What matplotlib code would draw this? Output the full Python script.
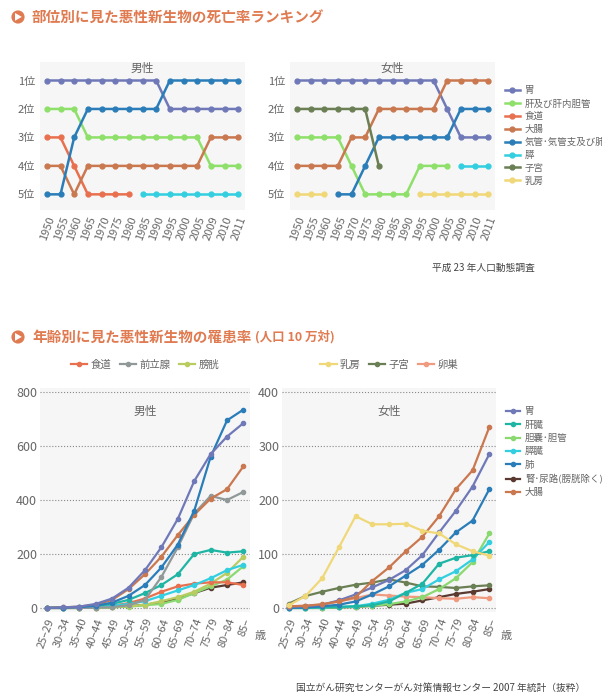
import matplotlib.pyplot as plt
import numpy as np

plt.rcParams['font.family'] = ['Noto Sans CJK JP', 'DejaVu Sans']
nan = np.nan

years = ["1950", "1955", "1960", "1965", "1970", "1975", "1980", "1985",
         "1990", "1995", "2000", "2005", "2009", "2010", "2011"]
rank_labels = ["1位", "2位", "3位", "4位", "5位"]

# 死亡率ランキング (男性)
m_stomach = [1, 1, 1, 1, 1, 1, 1, 1, 1, 2, 2, 2, 2, 2, 2]
m_liver = [2, 2, 2, 3, 3, 3, 3, 3, 3, 3, 3, 3, 4, 4, 4]
m_esoph = [3, 3, 4, 5, 5, 5, 5, nan, nan, nan, nan, nan, nan, nan, nan]
m_colon = [4, 4, 5, 4, 4, 4, 4, 4, 4, 4, 4, 4, 3, 3, 3]
m_lung = [5, 5, 3, 2, 2, 2, 2, 2, 2, 1, 1, 1, 1, 1, 1]
m_panc = [nan] * 7 + [5] * 8

# 死亡率ランキング (女性)
f_stomach = [1, 1, 1, 1, 1, 1, 1, 1, 1, 1, 1, 2, 3, 3, 3]
f_liver = [3, 3, 3, 3, 4, 5, 5, 5, 5, 4, 4, 4, nan, nan, nan]
f_colon = [4, 4, 4, 4, 3, 3, 2, 2, 2, 2, 2, 1, 1, 1, 1]
f_lung = [nan, nan, nan, 5, 5, 4, 3, 3, 3, 3, 3, 3, 2, 2, 2]
f_panc = [nan] * 12 + [4, 4, 4]
f_uterus = [2, 2, 2, 2, 2, 2, 4] + [nan] * 8
f_breast = [5, 5, 5] + [nan] * 6 + [5] * 6

ages = ["25–29", "30–34", "35–40", "40–44", "45–49", "50–54", "55–59",
        "60–64", "65–69", "70–74", "75–79", "80–84", "85–"]

# 罹患率 男性
im_stomach = [0, 2, 5, 15, 35, 75, 140, 225, 330, 470, 570, 635, 685]
im_lung = [0, 1, 3, 8, 20, 45, 85, 150, 235, 360, 560, 695, 735]
im_colon = [0, 2, 5, 12, 30, 70, 125, 190, 270, 345, 405, 440, 525]
im_prostate = [0, 0, 0, 1, 3, 10, 30, 115, 225, 350, 415, 400, 430]
im_liver = [0, 1, 3, 8, 15, 30, 55, 85, 125, 200, 215, 205, 210]
im_panc = [0, 0, 1, 3, 8, 15, 25, 45, 65, 85, 110, 140, 160]
im_esoph = [0, 0, 1, 3, 8, 18, 35, 60, 80, 90, 95, 95, 85]
im_bladder = [0, 0, 0, 1, 3, 6, 12, 25, 40, 60, 90, 130, 190]
im_gall = [0, 0, 0, 1, 2, 5, 10, 15, 30, 55, 80, 105, 155]
im_kidney = [0, 0, 0, 1, 3, 6, 12, 20, 35, 55, 75, 85, 95]

# 罹患率 女性
if_breast = [5, 22, 55, 112, 170, 155, 155, 156, 143, 138, 118, 105, 97]
if_uterus = [8, 22, 30, 37, 43, 47, 53, 47, 40, 39, 37, 40, 42]
if_ovary = [3, 4, 6, 12, 18, 25, 23, 21, 20, 18, 17, 20, 18]
if_stomach = [2, 3, 6, 14, 25, 38, 52, 70, 98, 140, 180, 225, 285]
if_liver = [0, 0, 1, 2, 3, 5, 12, 28, 45, 82, 93, 98, 105]
if_gall = [0, 0, 0, 1, 2, 4, 7, 12, 20, 35, 55, 85, 138]
if_panc = [0, 0, 1, 2, 3, 8, 15, 28, 35, 53, 68, 90, 122]
if_lung = [0, 1, 3, 6, 12, 25, 40, 60, 80, 108, 140, 162, 220]
if_kidney = [0, 0, 0, 1, 2, 4, 6, 8, 14, 20, 26, 30, 35]
if_colon = [3, 4, 7, 12, 20, 50, 75, 105, 132, 170, 220, 255, 335]

C = dict(stomach="#7079b8", liver_r="#8ee06a", esoph="#e8704f", colon="#c9784f",
         lung="#2a7db8", panc="#33cfe0", uterus="#6b7f55", breast="#f0d878",
         liver="#1fb5a5", gall="#8ad870", kidney="#5a3a30", prostate="#909898",
         bladder="#b8cc60", ovary="#f09a80")
grey = "#666666"
orange = "#e07a50"

fig = plt.figure(figsize=(6.02, 6.98), dpi=100)
W, H = 602, 698


def add_ax(x0, y0, x1, y1):
    return fig.add_axes([x0 / W, 1 - y1 / H, (x1 - x0) / W, (y1 - y0) / H])


def header(y, text, sub=""):
    fig.text(18 / W, 1 - y / H, "▶", color="white", fontsize=6, ha="center", va="center",
             bbox=dict(boxstyle="circle,pad=0.25", fc=orange, ec="none"))
    fig.text(32 / W, 1 - y / H, text, color=orange, fontsize=10.5, fontweight="bold", va="center")
    if sub:
        fig.text(255 / W, 1 - y / H, sub, color=orange, fontsize=9, fontweight="bold", va="center")


def style(ax):
    ax.set_facecolor("#f6f6f6")
    for s in ax.spines.values():
        s.set_visible(False)
    ax.tick_params(length=0, colors=grey, labelsize=8)


header(17, "部位別に見た悪性新生物の死亡率ランキング")
header(337, "年齢別に見た悪性新生物の罹患率", "(人口 10 万対)")

x = np.arange(len(years))
kw = dict(marker="o", markersize=3.5, linewidth=1.8)

ax1 = add_ax(40, 62, 245, 210)
ax1.plot(x, m_stomach, color=C["stomach"], **kw)
ax1.plot(x, m_liver, color=C["liver_r"], **kw)
ax1.plot(x, m_esoph, color=C["esoph"], **kw)
ax1.plot(x, m_colon, color=C["colon"], **kw)
ax1.plot(x, m_lung, color=C["lung"], **kw)
ax1.plot(x, m_panc, color=C["panc"], **kw)

ax2 = add_ax(290, 62, 495, 210)
ax2.plot(x, f_stomach, color=C["stomach"], label="胃", **kw)
ax2.plot(x, f_liver, color=C["liver_r"], label="肝及び肝内胆管", **kw)
ax2.plot([], [], color=C["esoph"], label="食道", **kw)
ax2.plot(x, f_colon, color=C["colon"], label="大腸", **kw)
ax2.plot(x, f_lung, color=C["lung"], label="気管･気管支及び肺", **kw)
ax2.plot(x, f_panc, color=C["panc"], label="膵", **kw)
ax2.plot(x, f_uterus, color=C["uterus"], label="子宮", **kw)
ax2.plot(x, f_breast, color=C["breast"], label="乳房", **kw)
ax2.legend(loc="upper left", bbox_to_anchor=(1.03, 0.86), frameon=False, fontsize=6.8,
           labelcolor=grey, handlelength=1.6, handletextpad=0.5, labelspacing=0.4,
           borderaxespad=0)

for ax, t in ((ax1, "男性"), (ax2, "女性")):
    style(ax)
    ax.set_ylim(5.55, 0.35)
    ax.set_xlim(-0.5, 14.5)
    ax.set_yticks(range(1, 6), rank_labels)
    ax.set_xticks(x, years, rotation=70, ha="right", rotation_mode="anchor")
    ax.tick_params(axis="x", labelsize=8)
    ax.text(0.5, 0.93, t, transform=ax.transAxes, ha="center", color=grey, fontsize=8.5)

fig.text(535 / W, 1 - 268 / H, "平成 23 年人口動態調査", ha="right", va="center", fontsize=7, color="#444444")

xa = np.arange(len(ages))
kw2 = dict(marker="o", markersize=3, linewidth=1.6)

ax3 = add_ax(40, 388, 250, 612)
ax3.plot(xa, im_kidney, color=C["kidney"], **kw2)
ax3.plot(xa, im_gall, color=C["gall"], **kw2)
ax3.plot(xa, im_bladder, color=C["bladder"], label="膀胱", **kw2)
ax3.plot(xa, im_esoph, color=C["esoph"], label="食道", **kw2)
ax3.plot(xa, im_panc, color=C["panc"], **kw2)
ax3.plot(xa, im_liver, color=C["liver"], **kw2)
ax3.plot(xa, im_prostate, color=C["prostate"], label="前立腺", **kw2)
ax3.plot(xa, im_colon, color=C["colon"], **kw2)
ax3.plot(xa, im_lung, color=C["lung"], **kw2)
ax3.plot(xa, im_stomach, color=C["stomach"], **kw2)
ax3.set_ylim(-15, 815)
ax3.set_yticks([0, 200, 400, 600, 800])
h, l = ax3.get_legend_handles_labels()
order = [1, 2, 0]
ax3.legend([h[i] for i in order], [l[i] for i in order], loc="lower center",
           bbox_to_anchor=(0.5, 1.04), ncol=3, frameon=False, fontsize=7.5, labelcolor=grey,
           handlelength=1.6, columnspacing=0.8, handletextpad=0.3)

ax4 = add_ax(282, 388, 496, 612)
ax4.plot(xa, if_kidney, color=C["kidney"], **kw2)
ax4.plot(xa, if_ovary, color=C["ovary"], **kw2)
ax4.plot(xa, if_uterus, color=C["uterus"], **kw2)
ax4.plot(xa, if_gall, color=C["gall"], **kw2)
ax4.plot(xa, if_panc, color=C["panc"], **kw2)
ax4.plot(xa, if_liver, color=C["liver"], **kw2)
ax4.plot(xa, if_lung, color=C["lung"], **kw2)
ax4.plot(xa, if_stomach, color=C["stomach"], **kw2)
ax4.plot(xa, if_colon, color=C["colon"], **kw2)
ax4.plot(xa, if_breast, color=C["breast"], **kw2)
ax4.set_ylim(-7.5, 407.5)
ax4.set_yticks([0, 100, 200, 300, 400])

mk = lambda c: plt.Line2D([], [], color=c, **kw2)
top_f = ax4.legend([mk(C["breast"]), mk(C["uterus"]), mk(C["ovary"])], ["乳房", "子宮", "卵巣"],
                   loc="lower center", bbox_to_anchor=(0.5, 1.04), ncol=3, frameon=False,
                   fontsize=7.5, labelcolor=grey, handlelength=1.6, columnspacing=0.8,
                   handletextpad=0.3)
ax4.add_artist(top_f)
ax4.legend([mk(C["stomach"]), mk(C["liver"]), mk(C["gall"]), mk(C["panc"]), mk(C["lung"]),
            mk(C["kidney"]), mk(C["colon"])],
           ["胃", "肝臓", "胆嚢･胆管", "膵臓", "肺", "腎･尿路(膀胱除く)", "大腸"],
           loc="upper left", bbox_to_anchor=(1.03, 0.93), frameon=False, fontsize=6.8,
           labelcolor=grey, handlelength=1.5, handletextpad=0.5, labelspacing=0.45,
           borderaxespad=0)

for ax, t in ((ax3, "男性"), (ax4, "女性")):
    style(ax)
    ax.set_xlim(-0.4, 12.4)
    ax.set_xticks(xa, ages, rotation=70, ha="right", rotation_mode="anchor")
    ax.tick_params(axis="y", labelsize=9, pad=2)
    ax.yaxis.grid(True, linestyle=":", color="#888888", linewidth=0.8)
    ax.set_axisbelow(True)
    ax.text(0.5, 0.88, t, transform=ax.transAxes, ha="center", color=grey, fontsize=8.5)
    ax.text(1.02, -0.12, "歳", transform=ax.transAxes, color=grey, fontsize=8)

fig.text(585 / W, 1 - 688 / H, "国立がん研究センターがん対策情報センター 2007 年統計（抜粋）",
         ha="right", va="center", fontsize=7, color="#444444")

fig.savefig("out.png", dpi=100, facecolor="white")
